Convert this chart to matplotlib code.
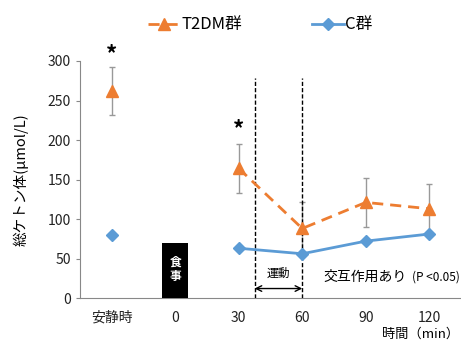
import matplotlib.pyplot as plt
import numpy as np

plt.rcParams['font.family'] = ['Noto Sans CJK JP', 'DejaVu Sans']

# data
categories = ['安静時', '0', '30', '60', '90', '120']
t2dm = [262, None, 164, 88, 121, 113]
t2dm_err = [30, None, 31, 33, 31, 31]
ctrl = [80, None, 63, 56, 72, 81]
meal_height = 69
exercise_span = [2.25, 3.0]

orange = '#ED7D31'
blue = '#5B9BD5'

fig = plt.figure(figsize=(4.61, 3.46), dpi=100)
ax = fig.add_axes([0.1735, 0.1387, 0.8265, 0.685])

x = np.arange(len(categories))

def split(vals):
    return np.array([np.nan if v is None else v for v in vals], dtype=float)

ty = split(t2dm)
te = split(t2dm_err)
cy = split(ctrl)

# error bars
ax.errorbar(x, ty, yerr=te, fmt='none', ecolor='#999999', elinewidth=1,
            capsize=2, capthick=1, zorder=2)

# T2DM: isolated rest point + dashed line from 30
ax.plot(x[:1], ty[:1], marker='^', ms=9, color=orange, ls='none', zorder=4)
ax.plot(x[2:], ty[2:], marker='^', ms=9, color=orange, ls=(0, (4, 2.5)), lw=2,
        zorder=4, label='T2DM群')
ax.plot(x[:1], cy[:1], marker='D', ms=6, color=blue, ls='none', zorder=4)
ax.plot(x[2:], cy[2:], marker='D', ms=6, color=blue, ls='-', lw=2,
        zorder=4, label='C群')

# meal bar
ax.bar(1, meal_height, width=0.41, color='black', zorder=3)
ax.text(1, meal_height / 2 + 2, '食\n事', color='white', ha='center', va='center',
        fontsize=8.5, fontweight='bold', linespacing=1.1, zorder=5)

# exercise lines
for xv in exercise_span:
    ax.plot([xv, xv], [0, 279], color='black', ls=(0, (3, 1.5)), lw=1, zorder=3)
ax.annotate('', xy=(exercise_span[0], 12), xytext=(exercise_span[1], 12),
            arrowprops=dict(arrowstyle='<->', color='black', lw=1, shrinkA=0, shrinkB=0))
ax.text(np.mean(exercise_span), 31, '運動', ha='center', va='center', fontsize=8.5)

ax.text(0.64, 27, '交互作用あり', ha='left', va='center', fontsize=10,
        transform=ax.get_yaxis_transform())
ax.text(0.872, 27, '(P <0.05)', ha='left', va='center', fontsize=8.5,
        transform=ax.get_yaxis_transform())

# significance stars
ax.text(0, 308, '*', ha='center', va='center', fontsize=16, fontweight='bold', clip_on=False)
ax.text(2, 213, '*', ha='center', va='center', fontsize=16, fontweight='bold')

ax.set_xlim(-0.5, 5.5)
ax.set_ylim(0, 300)
ax.set_yticks(range(0, 301, 50))
ax.set_xticks(x)
ax.set_xticklabels(categories)
ax.tick_params(axis='x', length=0, pad=9, labelsize=10, colors='#222222')
ax.tick_params(axis='y', length=3, labelsize=10, colors='#222222', color='#888888')
for s in ['top', 'right']:
    ax.spines[s].set_visible(False)
ax.spines['left'].set_color('#888888')
ax.spines['bottom'].set_color('#888888')

ax.set_ylabel('総ケトン体(μmol/L)', fontsize=10.5, labelpad=14)
fig.text(0.995, 0.015, '時間（min）', ha='right', va='bottom', fontsize=9.5)

ax.legend(loc='center left', bbox_to_anchor=(148 / 461, 1 - 25 / 346),
          bbox_transform=fig.transFigure, ncol=2, frameon=False,
          fontsize=12, handlelength=1.9, columnspacing=4.2, handletextpad=0.1,
          borderaxespad=0, borderpad=0)

fig.savefig('out.png', dpi=100)
